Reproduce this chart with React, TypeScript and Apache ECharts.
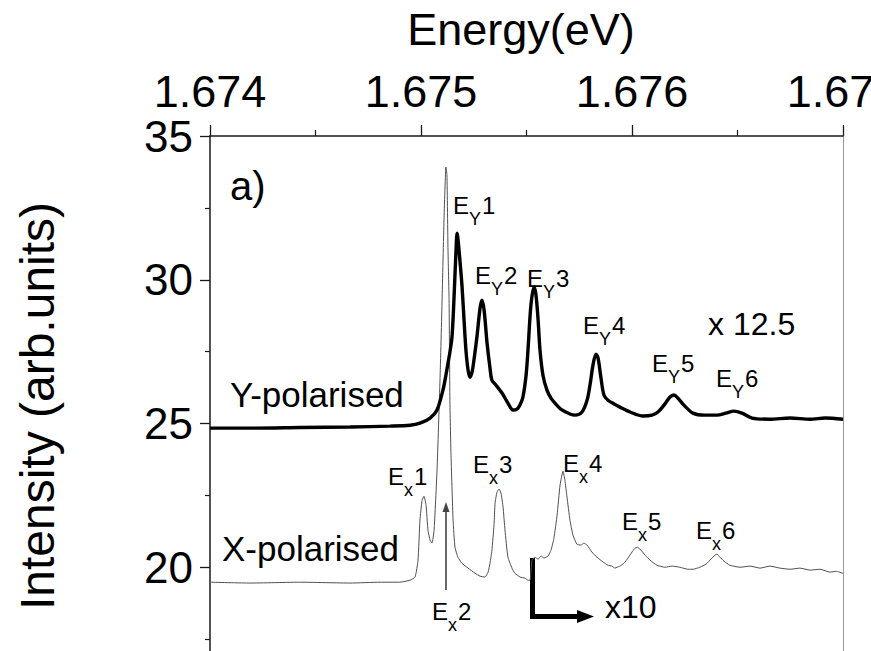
import React, { useEffect, useRef } from "react";
import * as echarts from "echarts";

// ---- Data ----
const energyTicks = [1.674, 1.675, 1.676, 1.677];
const intensityTicks = [15, 20, 25, 30, 35];

// Y-polarised spectrum (x 12.5), thick black curve
const yPolEnergy = [
  1.674, 1.67419, 1.674427, 1.674664, 1.674853, 1.674948, 1.674995, 1.675043, 1.675076, 1.675104,
  1.675118, 1.675128, 1.675137, 1.675147, 1.675156, 1.675166, 1.675171, 1.675175, 1.675185, 1.675194,
  1.675204, 1.675213, 1.675223, 1.675232, 1.675242, 1.675251, 1.675265, 1.67528, 1.675289, 1.675299,
  1.675313, 1.675327, 1.675336, 1.675355, 1.675384, 1.675412, 1.675436, 1.675455, 1.675469, 1.675483,
  1.675498, 1.675507, 1.675521, 1.675536, 1.675545, 1.675555, 1.675564, 1.675578, 1.675597, 1.675616,
  1.675635, 1.675668, 1.675706, 1.67573, 1.675763, 1.675787, 1.675801, 1.675815, 1.675829, 1.675839,
  1.675853, 1.675867, 1.675886, 1.675915, 1.675943, 1.675991, 1.676052, 1.676095, 1.676123, 1.676152,
  1.67618, 1.676199, 1.676218, 1.676246, 1.676289, 1.676346, 1.676403, 1.676445, 1.676483, 1.676521,
  1.676569, 1.676654, 1.676749, 1.676844, 1.676915, 1.677,
];
const yPolIntensity = [
  24.84, 24.84, 24.86, 24.88, 24.91, 24.94, 25.01, 25.19, 25.47, 26.16,
  26.68, 27.1, 27.48, 28.01, 29.29, 31.03, 31.62, 31.45, 30.62, 29.82,
  28.6, 27.55, 26.86, 26.61, 26.79, 27.21, 28.01, 29.02, 29.29, 28.95,
  27.8, 26.93, 26.51, 26.34, 26.06, 25.71, 25.47, 25.5, 25.64, 25.92,
  26.68, 27.55, 29.12, 29.75, 29.47, 28.6, 27.55, 26.68, 26.16, 25.88,
  25.71, 25.47, 25.33, 25.29, 25.4, 25.81, 26.34, 27.03, 27.41, 27.28,
  26.58, 25.99, 25.81, 25.68, 25.57, 25.4, 25.26, 25.29, 25.4, 25.64,
  25.92, 25.99, 25.88, 25.64, 25.36, 25.29, 25.29, 25.36, 25.43, 25.36,
  25.19, 25.15, 25.19, 25.15, 25.19, 25.15,
];

// X-polarised spectrum (x 10 beyond the arrow), thin grey curve
const xPolEnergy = [
  1.674, 1.67419, 1.674427, 1.674664, 1.674806, 1.6749, 1.674948, 1.674972, 1.674986, 1.674995,
  1.675005, 1.675014, 1.675024, 1.675033, 1.675043, 1.675052, 1.675062, 1.675076, 1.67509, 1.6751,
  1.675109, 1.675118, 1.675123, 1.675128, 1.675133, 1.675137, 1.675142, 1.675152, 1.675161, 1.675175,
  1.675194, 1.675223, 1.675256, 1.67528, 1.675303, 1.675318, 1.675327, 1.675336, 1.675346, 1.675351,
  1.67536, 1.67537, 1.675379, 1.675389, 1.675398, 1.675412, 1.675431, 1.675445, 1.675469, 1.675493,
  1.675507, 1.675517, 1.675526, 1.67554, 1.675555, 1.675569, 1.675583, 1.675602, 1.675616, 1.67563,
  1.675645, 1.675659, 1.675673, 1.675682, 1.675692, 1.675706, 1.67572, 1.675739, 1.675758, 1.675772,
  1.675787, 1.67581, 1.675834, 1.675863, 1.675886, 1.675905, 1.675919, 1.675929, 1.675943, 1.675962,
  1.675981, 1.676, 1.676014, 1.676024, 1.676038, 1.676062, 1.676085, 1.676118, 1.676156, 1.67619,
  1.676227, 1.676265, 1.676289, 1.676322, 1.676351, 1.676374, 1.676393, 1.676403, 1.676417, 1.676436,
  1.676464, 1.676512, 1.676559, 1.676607, 1.676654, 1.676701, 1.676749, 1.676796, 1.676844, 1.676891,
  1.676938, 1.676967, 1.677,
];
const xPolIntensity = [
  19.48, 19.45, 19.48, 19.45, 19.48, 19.48, 19.55, 19.66, 20.25, 21.64,
  22.33, 22.47, 22.16, 21.29, 20.94, 20.84, 21.29, 23.38, 26.51, 29.29,
  32.08, 33.92, 33.64, 31.03, 29.29, 25.81, 23.97, 21.64, 20.7, 20.35,
  20.14, 19.97, 19.79, 19.69, 19.66, 19.83, 20.14, 20.59, 21.46, 22.23,
  22.61, 22.72, 22.58, 22.09, 21.29, 20.35, 19.97, 19.79, 19.66, 19.62,
  19.55, 19.55, 20.25, 20.35, 20.28, 20.39, 20.32, 20.39, 20.59, 21.01,
  21.81, 22.86, 23.34, 23.03, 22.44, 21.64, 21.12, 20.8, 20.77, 20.84,
  20.77, 20.53, 20.35, 20.18, 20.07, 20.04, 19.97, 20.0, 20.04, 20.14,
  20.32, 20.53, 20.66, 20.7, 20.63, 20.42, 20.25, 20.07, 20.0, 20.04,
  20.0, 19.93, 19.93, 20.0, 20.11, 20.28, 20.42, 20.46, 20.35, 20.21,
  20.07, 20.0, 20.04, 19.97, 20.04, 19.97, 19.93, 19.97, 19.9, 19.93,
  19.83, 19.86, 19.79,
];

const FONT = "Liberation Sans";

function txt(x: number, y: number, text: string, size: number, extra: any = {}) {
  return {
    type: "text",
    x,
    y,
    silent: true,
    style: {
      text,
      fontSize: size,
      fontFamily: FONT,
      fill: "#000",
      align: "left",
      verticalAlign: "middle",
    },
    ...extra,
  };
}

function eLabel(left: number, top: number, sub: string, num: string) {
  const subW = sub === "Y" ? 13 : 10;
  return [
    txt(left, top + 8.5, "E", 24),
    txt(left + 16, top + 21.5, sub, 18),
    txt(left + 16 + subW, top + 8.5, num, 24),
  ];
}

export default function App() {
  const ref = useRef<HTMLDivElement>(null);

  useEffect(() => {
    if (!ref.current) return;
    const chart = echarts.init(ref.current, undefined, { renderer: "svg" });

    const yData = yPolEnergy.map((e, i) => [e, yPolIntensity[i]]);
    const xData = xPolEnergy.map((e, i) => [e, xPolIntensity[i]]);

    const eMin = energyTicks[0];
    const eMax = energyTicks[energyTicks.length - 1];
    const eInt = energyTicks[1] - energyTicks[0];
    const iMin = intensityTicks[0];
    const iMax = intensityTicks[intensityTicks.length - 1];
    const iInt = intensityTicks[1] - intensityTicks[0];
    const firstShown = intensityTicks[1];

    const graphic: any[] = [
      // axis titles
      {
        type: "text",
        x: 521,
        y: 29,
        silent: true,
        style: { text: "Energy(eV)", fontSize: 45, fontFamily: FONT, fill: "#000", align: "center", verticalAlign: "middle" },
      },
      {
        type: "text",
        x: 37,
        y: 406,
        rotation: Math.PI / 2,
        silent: true,
        style: {
          text: "Intensity (arb.units)",
          fontSize: 48,
          fontFamily: FONT,
          fill: "#000",
          align: "center",
          verticalAlign: "middle",
        },
      },
      txt(230, 186, "a)", 40),
      txt(230, 394, "Y-polarised", 35),
      txt(222, 548, "X-polarised", 35),
      txt(708, 324, "x 12.5", 32),
      txt(605, 607, "x10", 32),
      ...eLabel(453, 197, "Y", "1"),
      ...eLabel(475, 267, "Y", "2"),
      ...eLabel(527, 270, "Y", "3"),
      ...eLabel(583, 317, "Y", "4"),
      ...eLabel(652, 355, "Y", "5"),
      ...eLabel(716, 370, "Y", "6"),
      ...eLabel(388, 468, "x", "1"),
      ...eLabel(432, 603, "x", "2"),
      ...eLabel(473, 456, "x", "3"),
      ...eLabel(563, 455, "x", "4"),
      ...eLabel(622, 513, "x", "5"),
      ...eLabel(696, 522, "x", "6"),
      // E_X2 arrow
      {
        type: "line",
        silent: true,
        shape: { x1: 446, y1: 590, x2: 446, y2: 510 },
        style: { stroke: "#444", lineWidth: 1.6 },
      },
      {
        type: "polygon",
        silent: true,
        shape: { points: [[446, 502], [442.5, 512], [449.5, 512]] },
        style: { fill: "#444" },
      },
      // x10 scale-change marker (L-arrow)
      {
        type: "polyline",
        silent: true,
        shape: { points: [[532.5, 558], [532.5, 616.5], [580, 616.5]] },
        style: { stroke: "#000", lineWidth: 5, fill: "none" },
      },
      {
        type: "polygon",
        silent: true,
        shape: { points: [[594, 616.5], [577, 610], [577, 623]] },
        style: { fill: "#000" },
      },
    ];

    chart.setOption({
      animation: false,
      backgroundColor: "#fff",
      grid: { left: 210, right: 28, top: 136, bottom: 9, show: false, containLabel: false, outerBoundsMode: "none" },
      xAxis: {
        type: "value",
        position: "top",
        min: eMin,
        max: eMax,
        interval: eInt,
        axisLine: { show: true, onZero: false, lineStyle: { color: "#1a1a1a", width: 1.5 } },
        axisTick: { show: true, inside: false, length: 11, lineStyle: { color: "#1a1a1a", width: 1.3 } },
        minorTick: { show: true, splitNumber: 2, length: 6, lineStyle: { color: "#1a1a1a", width: 1.2 } },
        splitLine: { show: false },
        axisLabel: {
          show: true,
          margin: 22,
          fontSize: 45,
          fontFamily: FONT,
          color: "#000",
          showMinLabel: true,
          showMaxLabel: true,
          formatter: (v: number) => v.toFixed(3),
        },
      },
      yAxis: [
        {
          type: "value",
          position: "left",
          min: iMin,
          max: iMax,
          interval: iInt,
          axisLine: { show: true, onZero: false, lineStyle: { color: "#1a1a1a", width: 1.5 } },
          axisTick: { show: true, inside: false, length: 10, lineStyle: { color: "#1a1a1a", width: 1.3 } },
          minorTick: { show: true, splitNumber: 2, length: 5, lineStyle: { color: "#1a1a1a", width: 1.2 } },
          splitLine: { show: false },
          axisLabel: {
            show: true,
            margin: 17,
            fontSize: 44,
            fontFamily: FONT,
            color: "#000",
            formatter: (v: number) => (v < firstShown ? "" : String(v)),
          },
        },
        {
          type: "value",
          position: "right",
          min: iMin,
          max: iMax,
          interval: iInt,
          axisLine: { show: true, onZero: false, lineStyle: { color: "#999", width: 1 } },
          axisTick: { show: false },
          axisLabel: { show: false },
          splitLine: { show: false },
        },
      ],
      series: [
        {
          name: "X-polarised",
          type: "line",
          data: xData,
          yAxisIndex: 0,
          showSymbol: false,
          smooth: 0.15,
          lineStyle: { color: "#505050", width: 1 },
          z: 2,
        },
        {
          name: "Y-polarised",
          type: "line",
          data: yData,
          yAxisIndex: 0,
          showSymbol: false,
          smooth: 0.3,
          lineStyle: { color: "#000", width: 3.4 },
          z: 3,
        },
      ],
      graphic,
    });

    return () => chart.dispose();
  }, []);

  return (
    <div style={{ position: "absolute", left: 0, top: 0, width: 871, height: 651, overflow: "hidden", background: "#fff" }}>
      <div ref={ref} style={{ width: 871, height: 720 }} />
    </div>
  );
}
